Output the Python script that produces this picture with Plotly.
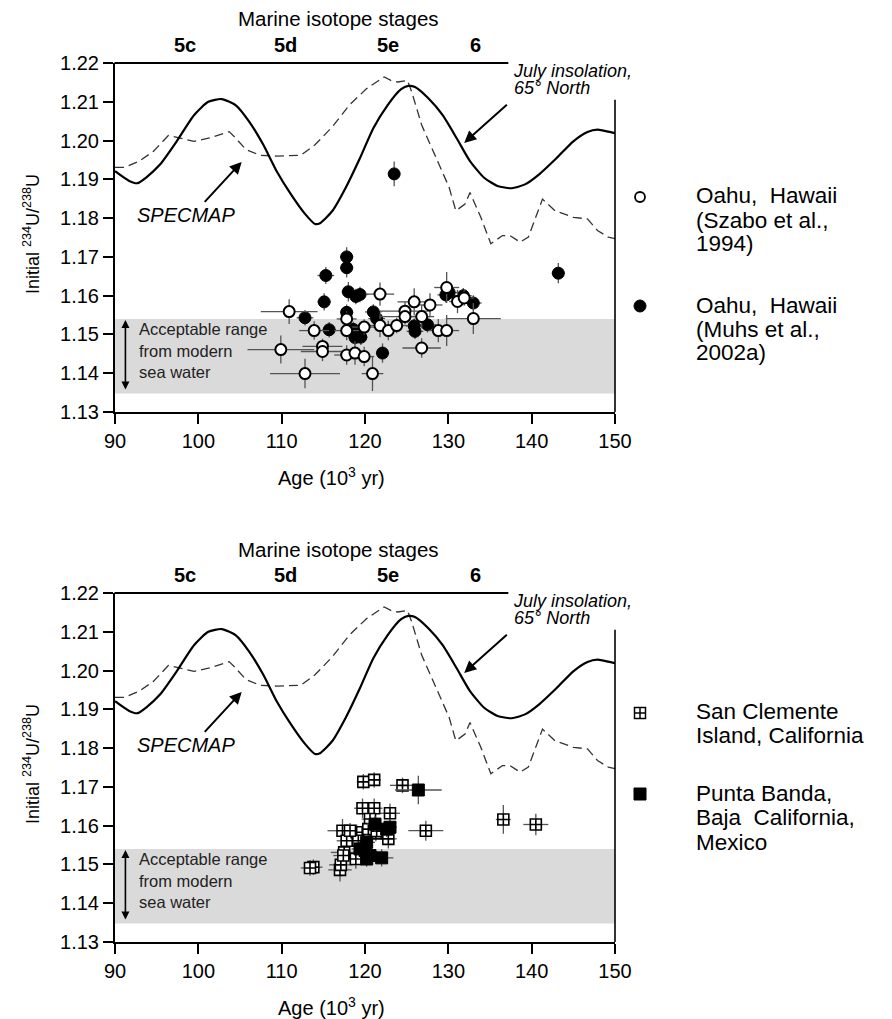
import plotly.graph_objects as go

W, H = 892, 1019

# ---------------- data ----------------
# July insolation, 65N (solid) and SPECMAP (dashed), scaled onto the U-ratio axis
ins_age = [90.0, 91.7, 92.7, 93.7, 95.4, 97.4, 99.5, 101.2, 102.8, 104.5, 106.1, 107.8, 109.4,
           111.1, 112.8, 114.0, 114.6, 116.1, 117.7, 119.4, 121.0, 122.7, 124.3, 125.2, 126.0,
           127.6, 129.3, 131.0, 132.6, 134.3, 135.9, 137.6, 139.2, 140.9, 143.0, 145.0, 146.7,
           147.9, 149.2, 150.0]
ins_val = [1.1921, 1.1896, 1.1890, 1.1904, 1.1938, 1.1998, 1.2066, 1.2100, 1.2107, 1.2091, 1.2049,
           1.1989, 1.1921, 1.1862, 1.1811, 1.1785, 1.1787, 1.1819, 1.1879, 1.1955, 1.2032, 1.2091,
           1.2132, 1.2141, 1.2138, 1.2109, 1.2066, 1.2006, 1.1947, 1.1904, 1.1883, 1.1877, 1.1887,
           1.1913, 1.1955, 1.1998, 1.2022, 1.2028, 1.2023, 1.2019]

spec_age = [90.0, 91.2, 92.9, 94.6, 96.4, 97.9, 99.5, 101.2, 103.7, 104.5, 105.7, 107.4, 109.4,
            112.3, 114.0, 116.1, 118.1, 120.2, 122.3, 123.1, 123.9, 125.1, 125.6, 126.8, 128.5,
            130.1, 130.9, 132.0, 132.6, 133.9, 135.1, 136.5, 137.4, 138.6, 139.6, 141.3, 142.8,
            145.0, 146.7, 147.9, 149.2, 150.0]
spec_val = [1.1931, 1.1931, 1.1947, 1.1972, 1.2013, 1.2006, 1.1998, 1.2006, 1.2023, 1.2006, 1.1977,
            1.1962, 1.1960, 1.1962, 1.1989, 1.2036, 1.2091, 1.2134, 1.2164, 1.2155, 1.2151, 1.2155,
            1.2126, 1.2040, 1.1955, 1.1879, 1.1819, 1.1836, 1.1866, 1.1802, 1.1734, 1.1755, 1.1755,
            1.1738, 1.1751, 1.1849, 1.1819, 1.1802, 1.1798, 1.1768, 1.1751, 1.1747]

# Oahu, Hawaii (Szabo et al., 1994) - open circles
szabo_age = [110.9, 109.9, 112.8, 113.9, 114.9, 114.9, 117.8, 117.8, 117.8, 118.8, 119.9, 119.9,
             121.8, 120.9, 121.8, 122.8, 123.8, 124.8, 124.8, 125.9, 126.8, 126.8, 127.8, 128.8,
             129.8, 129.8, 131.1, 131.9, 133.0]
szabo_u = [1.1559, 1.1461, 1.1399, 1.1510, 1.1469, 1.1456, 1.1540, 1.1510, 1.1447, 1.1452, 1.1443,
           1.1519, 1.1604, 1.1399, 1.1523, 1.1510, 1.1523, 1.1560, 1.1546, 1.1584, 1.1546, 1.1465,
           1.1576, 1.1510, 1.1510, 1.1621, 1.1585, 1.1594, 1.1541]
szabo_age_err = [3.4, 4.0, 4.2, 1.8, 2.4, 2.6, 1.2, 1.5, 1.5, 1.5, 1.2, 1.5, 1.7, 1.3, 1.5, 1.2,
                 1.2, 3.0, 3.0, 2.0, 1.5, 2.3, 1.5, 1.2, 1.5, 1.5, 1.0, 1.2, 3.3]
szabo_u_err = [0.0032, 0.0036, 0.0038, 0.0024, 0.0020, 0.0025, 0.0020, 0.0025, 0.0025, 0.0030,
               0.0025, 0.0020, 0.0030, 0.0045, 0.0030, 0.0025, 0.0020, 0.0025, 0.0020, 0.0035,
               0.0030, 0.0025, 0.0030, 0.0030, 0.0040, 0.0040, 0.0030, 0.0020, 0.0040]

# Oahu, Hawaii (Muhs et al., 2002a) - filled circles
muhs_age = [117.8, 117.8, 115.3, 115.1, 112.8, 115.7, 118.0, 118.9, 119.4, 117.8, 118.6, 118.8,
            119.3, 119.0, 119.5, 121.0, 121.4, 122.1, 125.9, 126.0, 127.5, 129.7, 130.1, 131.8,
            133.0, 143.2, 123.5]
muhs_u = [1.1700, 1.1672, 1.1652, 1.1584, 1.1543, 1.1512, 1.1610, 1.1598, 1.1603, 1.1557, 1.1513,
          1.1492, 1.1497, 1.1505, 1.1493, 1.1558, 1.1541, 1.1452, 1.1522, 1.1508, 1.1525, 1.1602,
          1.1608, 1.1600, 1.1581, 1.1658, 1.1914]
muhs_age_err = [0.8, 0.8, 1.0, 0.8, 1.0, 0.8, 0.8, 0.8, 1.0, 0.8, 0.8, 0.8, 0.8, 0.8, 0.8, 1.0,
                1.0, 0.8, 1.0, 1.0, 1.0, 1.0, 1.0, 1.0, 1.0, 0.8, 0.6]
muhs_u_err = [0.0025, 0.0025, 0.0022, 0.0022, 0.0020, 0.0020, 0.0025, 0.0020, 0.0020, 0.0020,
              0.0020, 0.0020, 0.0020, 0.0020, 0.0020, 0.0020, 0.0020, 0.0025, 0.0020, 0.0020,
              0.0020, 0.0020, 0.0020, 0.0020, 0.0020, 0.0026, 0.0032]

# San Clemente Island, California - cross-hatched squares
sc_age = [119.8, 121.1, 124.5, 127.3, 113.8, 113.4, 117.0, 117.1, 117.3, 117.8, 117.5, 117.4,
          118.9, 119.0, 119.2, 119.7, 121.1, 120.6, 121.3, 120.4, 123.0, 122.8, 118.2, 136.6,
          140.5, 121.4]
sc_u = [1.1713, 1.1718, 1.1704, 1.1587, 1.1493, 1.1491, 1.1486, 1.1499, 1.1587, 1.1561, 1.1531,
        1.1523, 1.1514, 1.1583, 1.1561, 1.1645, 1.1645, 1.1617, 1.1580, 1.1591, 1.1632, 1.1566,
        1.1587, 1.1616, 1.1603, 1.1586]
sc_age_err = [0.8, 0.8, 1.5, 2.1, 1.1, 1.1, 1.4, 1.4, 1.8, 1.2, 1.6, 1.2, 1.0, 1.2, 1.0, 1.0,
              1.0, 1.0, 1.0, 1.0, 1.2, 1.0, 1.0, 0.9, 1.5, 1.0]
sc_u_err = [0.0020, 0.0020, 0.0020, 0.0026, 0.0020, 0.0020, 0.0030, 0.0030, 0.0030, 0.0025,
            0.0025, 0.0025, 0.0025, 0.0020, 0.0020, 0.0025, 0.0025, 0.0020, 0.0020, 0.0020,
            0.0025, 0.0025, 0.0020, 0.0037, 0.0028, 0.0020]

# Punta Banda, Baja California, Mexico - filled squares
pb_age = [126.4, 123.0, 122.0, 120.6, 120.0, 120.2, 121.2, 119.4, 120.2, 122.6]
pb_u = [1.1692, 1.1596, 1.1517, 1.1523, 1.1536, 1.1557, 1.1604, 1.1540, 1.1514, 1.1591]
pb_age_err = [2.8, 0.8, 1.4, 1.0, 1.0, 1.0, 1.0, 1.0, 1.0, 0.8]
pb_u_err = [0.0037, 0.0020, 0.0022, 0.0020, 0.0020, 0.0020, 0.0020, 0.0020, 0.0020, 0.0020]

# acceptable modern sea-water range
band_low, band_high = 1.1348, 1.1540

stage_labels = ["5c", "5d", "5e", "6"]
stage_ages = [98.4, 110.4, 122.7, 133.2]

x_ticks = [90, 100, 110, 120, 130, 140, 150]
y_ticks = [1.13, 1.14, 1.15, 1.16, 1.17, 1.18, 1.19, 1.20, 1.21, 1.22]

top_line_end = 137.2      # age where the top frame line stops
right_line_top = 1.2105   # U-ratio where the right frame line starts

# ---------------- layout helpers ----------------
FONT = "Liberation Sans, Arial, Helvetica, sans-serif"
X0, X1 = 115, 615
XMIN, XMAX = 90, 150
YMIN, YMAX = 1.13, 1.22
panels = [dict(top=63, bot=412, xa="x", ya="y"),
          dict(top=593, bot=942, xa="x2", ya="y2")]


def pxx(px):
    return px / W


def pxy(py):
    return 1 - py / H


def txt_anno(text, x, y, size, xref="paper", yref="paper", xanchor="center", **kw):
    d = dict(text=text, xref=xref, yref=yref, x=x, y=y, xanchor=xanchor, yanchor="middle",
             showarrow=False, font=dict(size=size, family=FONT, color=kw.pop("color", "black")))
    d.update(kw)
    return d


def arrow_anno(xa, ya, x, y, ax, ay, **kw):
    d = dict(text="", xref=xa, yref=ya, x=x, y=y, axref=xa, ayref=ya, ax=ax, ay=ay,
             showarrow=True, arrowhead=2, arrowsize=1.2, arrowwidth=2, arrowcolor="black",
             standoff=0)
    d.update(kw)
    return d


fig = go.Figure()
shapes, annos = [], []

for i, p in enumerate(panels):
    dy = p["top"] - 63
    xa, ya = p["xa"], p["ya"]
    # curves
    fig.add_trace(go.Scatter(x=spec_age, y=spec_val, mode="lines", xaxis=xa, yaxis=ya,
                             line=dict(color="#333333", width=1.3, dash="9px,5px"),
                             showlegend=False, hoverinfo="skip"))
    fig.add_trace(go.Scatter(x=ins_age, y=ins_val, mode="lines", xaxis=xa, yaxis=ya,
                             line=dict(color="black", width=2.2, shape="spline", smoothing=0.6),
                             showlegend=False, hoverinfo="skip"))
    errstyle = dict(type="data", color="#555555", thickness=1.3, width=0)
    if i == 0:
        fig.add_trace(go.Scatter(x=muhs_age, y=muhs_u, mode="markers", xaxis=xa, yaxis=ya,
                                 error_x=dict(array=muhs_age_err, **errstyle),
                                 error_y=dict(array=muhs_u_err, **errstyle),
                                 marker=dict(symbol="circle", size=12, color="black",
                                             line=dict(color="black", width=1)),
                                 showlegend=False))
        fig.add_trace(go.Scatter(x=szabo_age, y=szabo_u, mode="markers", xaxis=xa, yaxis=ya,
                                 error_x=dict(array=szabo_age_err, **errstyle),
                                 error_y=dict(array=szabo_u_err, **errstyle),
                                 marker=dict(symbol="circle", size=11, color="white",
                                             line=dict(color="black", width=2)),
                                 showlegend=False))
    else:
        fig.add_trace(go.Scatter(x=sc_age, y=sc_u, mode="markers", xaxis=xa, yaxis=ya,
                                 error_x=dict(array=sc_age_err, **errstyle),
                                 error_y=dict(array=sc_u_err, **errstyle),
                                 marker=dict(symbol="square-cross", size=11, color="white",
                                             line=dict(color="black", width=1.6)),
                                 showlegend=False))
        fig.add_trace(go.Scatter(x=pb_age, y=pb_u, mode="markers", xaxis=xa, yaxis=ya,
                                 error_x=dict(array=pb_age_err, **errstyle),
                                 error_y=dict(array=pb_u_err, **errstyle),
                                 marker=dict(symbol="square", size=12, color="black",
                                             line=dict(color="black", width=1)),
                                 showlegend=False))

    # grey band
    shapes.append(dict(type="rect", xref=xa, yref=ya, x0=XMIN, x1=XMAX, y0=band_low, y1=band_high,
                       fillcolor="#dadada", line=dict(width=0), layer="below"))
    # partial top and right frame lines (paper coords from axis mapping)
    fx = lambda v: pxx(X0 + (v - XMIN) / (XMAX - XMIN) * (X1 - X0))
    fy = lambda v: pxy(p["bot"] - (v - YMIN) / (YMAX - YMIN) * (p["bot"] - p["top"]))
    shapes.append(dict(type="line", xref="paper", yref="paper", x0=fx(XMIN) - 0.5 / W,
                       x1=fx(top_line_end), y0=fy(YMAX), y1=fy(YMAX),
                       line=dict(color="black", width=2)))
    shapes.append(dict(type="line", xref="paper", yref="paper", x0=fx(XMAX), x1=fx(XMAX),
                       y0=fy(YMIN), y1=fy(right_line_top), line=dict(color="black", width=1.6)))

    # marine isotope stage labels
    annos.append(txt_anno("Marine isotope stages", 116.8, pxy(19 + dy), 20.5, xref=xa))
    for lab, age in zip(stage_labels, stage_ages):
        annos.append(txt_anno("<b>%s</b>" % lab, age, pxy(45 + dy), 20, xref=xa))
    # insolation label + arrow
    annos.append(txt_anno("<i>July insolation,</i>", pxx(511), pxy(71 + dy), 18, xanchor="left"))
    annos.append(txt_anno("<i>65° North</i>", pxx(512), pxy(88 + dy), 18, xanchor="left"))
    annos.append(arrow_anno(xa, ya, 131.9, 1.1994, 137.2, 1.2096))
    # SPECMAP label + arrow
    annos.append(txt_anno("<i>SPECMAP</i>", 92.4, 1.1807, 20, xref=xa, yref=ya, xanchor="left"))
    annos.append(arrow_anno(xa, ya, 105.2, 1.1945, 100.6, 1.1838))
    # band label
    annos.append(arrow_anno(xa, ya, 91.25, 1.1537, 91.25, 1.1354, arrowside="end+start",
                            arrowsize=1, arrowwidth=1.6, startstandoff=0))
    for t, yy in zip(["Acceptable range", "from modern", "sea water"], [1.1513, 1.1457, 1.1402]):
        annos.append(txt_anno(t, 92.6, yy, 16.5, xref=xa, yref=ya, xanchor="left",
                              color="#222222"))
    # axis titles
    annos.append(txt_anno("Age (10<sup>3</sup> yr)", 116.0, pxy(476 + dy), 20, xref=xa))
    annos.append(txt_anno("Initial <sup>234</sup>U/<sup>238</sup>U", pxx(31), pxy(234 + dy), 18,
                          textangle=-90))

# ---------------- manual legends (pixel overlay axis) ----------------
leg_marks = [dict(px=640, py=197, symbol="circle", size=10, color="white", lw=1.8),
             dict(px=640, py=306, symbol="circle", size=12, color="black", lw=1),
             dict(px=640, py=713, symbol="square-cross", size=11, color="white", lw=1.5),
             dict(px=640, py=794, symbol="square", size=12, color="black", lw=1)]
for m in leg_marks:
    fig.add_trace(go.Scatter(x=[m["px"]], y=[m["py"]], mode="markers", xaxis="x3", yaxis="y3",
                             marker=dict(symbol=m["symbol"], size=m["size"], color=m["color"],
                                         line=dict(color="black", width=m["lw"])),
                             showlegend=False, hoverinfo="skip"))
leg_lines = [("Oahu,  Hawaii", 195), ("(Szabo et al.,", 220), ("1994)", 244),
             ("Oahu,  Hawaii", 305), ("(Muhs et al.,", 329), ("2002a)", 353),
             ("San Clemente", 711), ("Island, California", 735),
             ("Punta Banda,", 793), ("Baja  California,", 817), ("Mexico", 842)]
for t, py in leg_lines:
    annos.append(txt_anno(t, pxx(694), pxy(py), 22.5, xanchor="left"))

axis_common = dict(range=[XMIN, XMAX], tickvals=x_ticks, ticks="outside", ticklen=10, tickwidth=2,
                   tickcolor="black", showline=True, linecolor="black", linewidth=2,
                   showgrid=False, zeroline=False, tickfont=dict(size=20, family=FONT, color="black"),
                   domain=[pxx(X0), pxx(X1)], automargin=False)
yaxis_common = dict(range=[YMIN, YMAX], tickvals=y_ticks, tickformat=".2f", ticks="outside",
                    ticklen=10, tickwidth=2, tickcolor="black", showline=True, linecolor="black",
                    linewidth=2, showgrid=False, zeroline=False, automargin=False,
                    tickfont=dict(size=20, family=FONT, color="black"))

fig.update_layout(
    width=W, height=H, margin=dict(l=0, r=0, t=0, b=0, pad=0, autoexpand=False),
    paper_bgcolor="white", plot_bgcolor="rgba(0,0,0,0)",
    font=dict(family=FONT, color="black"),
    xaxis=dict(anchor="y", **axis_common),
    yaxis=dict(anchor="x", domain=[pxy(412), pxy(63)], **yaxis_common),
    xaxis2=dict(anchor="y2", **axis_common),
    yaxis2=dict(anchor="x2", domain=[pxy(942), pxy(593)], **yaxis_common),
    xaxis3=dict(anchor="y3", domain=[0, 1], range=[0, W], visible=False, fixedrange=True,
                automargin=False),
    yaxis3=dict(anchor="x3", domain=[0, 1], range=[H, 0], visible=False, fixedrange=True,
                automargin=False),
    shapes=shapes, annotations=annos, showlegend=False,
)

fig.write_html("out.html", config={"displayModeBar": False},
               post_script="document.body.style.margin='0';document.body.style.overflow='hidden';")
